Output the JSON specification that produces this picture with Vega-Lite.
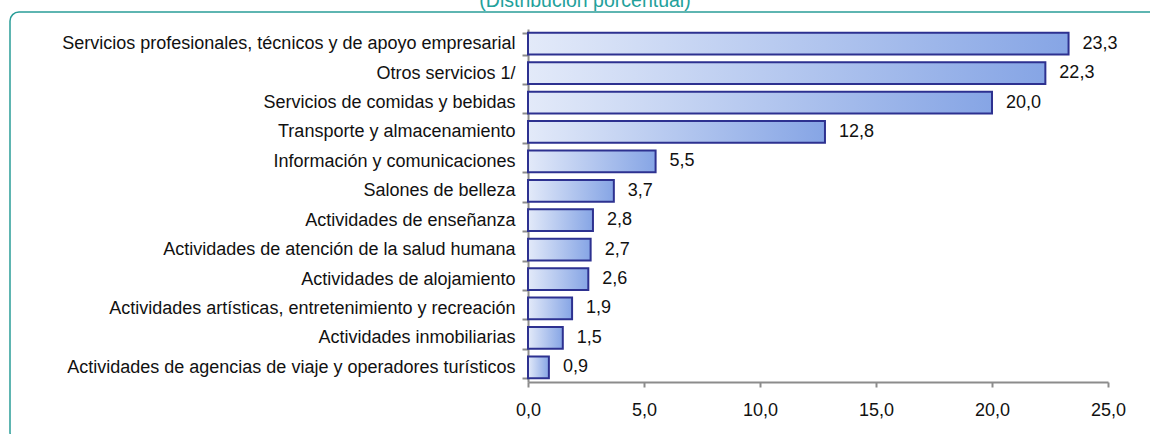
{
  "$schema": "https://vega.github.io/schema/vega-lite/v6.json",
  "width": 1150,
  "height": 430,
  "autosize": "none",
  "padding": {"left": 10, "top": 12, "right": 0, "bottom": 0},
  "background": "white",
  "config": {
    "locale": {"number": {"decimal": ",", "thousands": ".", "grouping": [3], "currency": ["", " €"]}},
    "font": "Liberation Sans, Arial, sans-serif",
    "view": {"stroke": "#2a9d98", "strokeWidth": 1.5, "cornerRadius": 9, "fill": "white"}
  },
  "title": {
    "text": "(Distribución porcentual)",
    "color": "#23a19b",
    "fontSize": 19.5,
    "fontWeight": "normal",
    "anchor": "middle",
    "baseline": "alphabetic",
    "offset": 5,
    "dy": 28,
    "frame": "group"
  },
  "data": {
    "values": [
      {"sector": "Servicios profesionales, técnicos y de apoyo empresarial", "valor": 23.3},
      {"sector": "Otros servicios 1/", "valor": 22.3},
      {"sector": "Servicios de comidas y bebidas", "valor": 20.0},
      {"sector": "Transporte y almacenamiento", "valor": 12.8},
      {"sector": "Información y comunicaciones", "valor": 5.5},
      {"sector": "Salones de belleza", "valor": 3.7},
      {"sector": "Actividades de enseñanza", "valor": 2.8},
      {"sector": "Actividades de atención de la salud humana", "valor": 2.7},
      {"sector": "Actividades de alojamiento", "valor": 2.6},
      {"sector": "Actividades artísticas, entretenimiento y recreación", "valor": 1.9},
      {"sector": "Actividades inmobiliarias", "valor": 1.5},
      {"sector": "Actividades de agencias de viaje y operadores turísticos", "valor": 0.9}
    ]
  },
  "encoding": {
    "y": {
      "field": "sector",
      "type": "nominal",
      "sort": null,
      "scale": {"range": [17, 370], "paddingInner": 0.26, "paddingOuter": 0.13},
      "axis": {
        "title": null,
        "orient": "left",
        "offset": -518,
        "domainColor": "#8c8c8c",
        "domainWidth": 2,
        "tickColor": "#8c8c8c",
        "tickWidth": 2,
        "tickSize": 6,
        "tickBand": "extent",
        "labelFontSize": 18,
        "labelColor": "#111111",
        "labelPadding": 7,
        "labelLimit": 0,
        "grid": false
      }
    },
    "x": {
      "field": "valor",
      "type": "quantitative",
      "scale": {"domain": [0, 25], "range": [518, 1098], "nice": false, "zero": true},
      "axis": {
        "title": null,
        "offset": -60,
        "values": [0, 5, 10, 15, 20, 25],
        "format": ".1f",
        "domainColor": "#8c8c8c",
        "domainWidth": 2,
        "tickColor": "#8c8c8c",
        "tickWidth": 2,
        "tickSize": 5,
        "labelPadding": 14,
        "labelFontSize": 18,
        "labelColor": "#111111",
        "labelFlush": false,
        "grid": false
      }
    }
  },
  "layer": [
    {
      "mark": {
        "type": "bar",
        "fill": {
          "gradient": "linear",
          "x1": 0, "y1": 0, "x2": 1, "y2": 0,
          "stops": [
            {"offset": 0, "color": "#e3eaf9"},
            {"offset": 1, "color": "#86a5e5"}
          ]
        },
        "stroke": "#2d3190",
        "strokeWidth": 2
      }
    },
    {
      "mark": {"type": "text", "align": "left", "baseline": "middle", "dx": 14, "fontSize": 18, "color": "#111111"},
      "encoding": {"text": {"field": "valor", "type": "quantitative", "format": ".1f"}}
    }
  ]
}
